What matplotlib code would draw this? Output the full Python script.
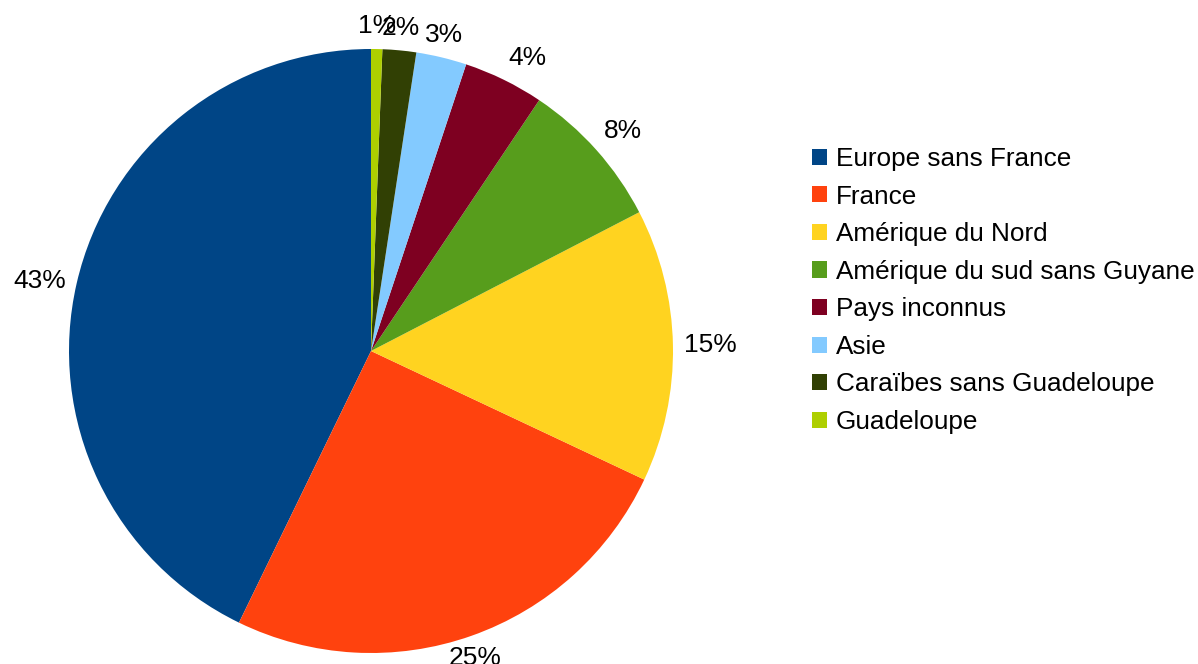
import numpy as np
import matplotlib.pyplot as plt

# Données : origine géographique (part en %)
categories = ["Europe sans France", "France", "Amérique du Nord",
              "Amérique du sud sans Guyane", "Pays inconnus", "Asie",
              "Caraïbes sans Guadeloupe", "Guadeloupe"]
valeurs = [42.8, 25.2, 14.6, 8.0, 4.3, 2.7, 1.8, 0.6]
couleurs = ["#004586", "#ff420e", "#ffd320", "#579d1c",
            "#7e0021", "#83caff", "#314004", "#aecf00"]

plt.rcParams['font.family'] = ['Liberation Sans', 'DejaVu Sans']

W, H = 1198, 664
fig = plt.figure(figsize=(W / 100, H / 100), dpi=100)

# Camembert : centre (371, 351), rayon ~302 px
cx, cy, R = 371, 351, 302
ax = fig.add_axes([(cx - R) / W, (H - cy - R) / H, 2 * R / W, 2 * R / H])
wedges, _ = ax.pie(valeurs, colors=couleurs, startangle=90,
                   counterclock=True, radius=1.0,
                   wedgeprops=dict(linewidth=0))
ax.set_xlim(-1, 1)
ax.set_ylim(-1, 1)
ax.set_aspect('equal')
ax.axis('off')

# Étiquettes de pourcentage à l'extérieur
for w, v in zip(wedges, valeurs):
    ang = np.deg2rad((w.theta1 + w.theta2) / 2)
    c, s = np.cos(ang), np.sin(ang)
    r = 1.035
    ha = 'center' if abs(c) < 0.4 else ('left' if c > 0 else 'right')
    va = 'center' if abs(s) < 0.5 else ('bottom' if s > 0 else 'top')
    ax.text(r * c, r * s, f"{v:.0f}%", ha=ha, va=va, fontsize=19,
            color='black', clip_on=False)

leg = fig.legend(wedges, categories, loc='upper left',
                 bbox_to_anchor=(812 / W, 1 - 147 / H),
                 frameon=False, fontsize=18.8, handlelength=0.58,
                 handleheight=0.58, handletextpad=0.34, labelspacing=0.52,
                 borderpad=0, borderaxespad=0)

fig.savefig("out.png", dpi=100)
